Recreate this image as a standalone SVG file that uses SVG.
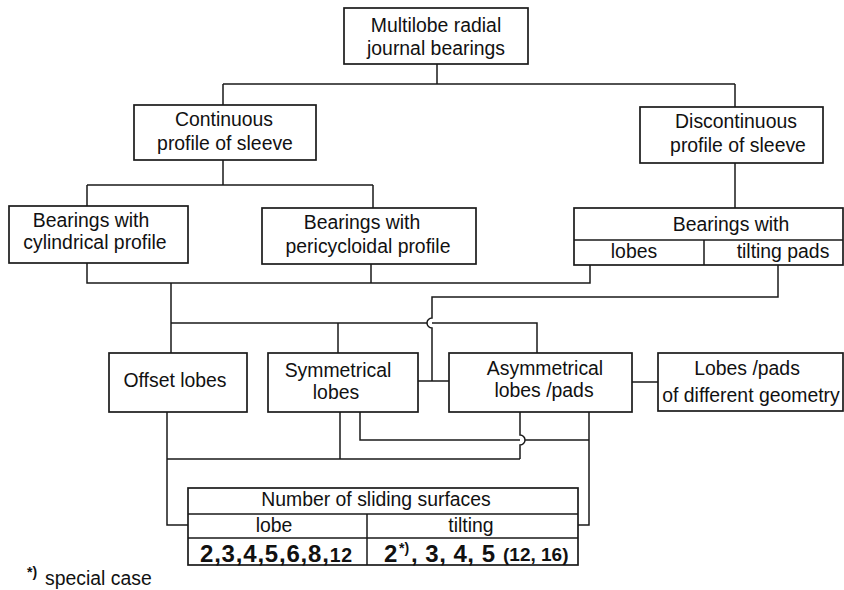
<svg xmlns="http://www.w3.org/2000/svg" width="844" height="590" viewBox="0 0 844 590">
<style>
  .box { fill: #ffffff; stroke: #1a1a1a; stroke-width: 1.7; }
  .div { fill: none; stroke: #1a1a1a; stroke-width: 1.5; }
  .con { fill: none; stroke: #1a1a1a; stroke-width: 1.5; }
  text { font-family: "Liberation Sans", Arial, sans-serif; font-size: 19.4px; fill: #111; }
  .c { text-anchor: middle; }
  .num { font-weight: bold; font-size: 24px; }
  .small { font-weight: bold; font-size: 19px; }
  .sup { font-weight: bold; font-size: 14px; }
</style>
<rect width="844" height="590" fill="#ffffff"/>

<g id="connectors">
  <path class="con" d="M437,64 V84 M223,84 H735 M223,84 V105 M735,84 V107"/>
  <path class="con" d="M223,160 V185 M87,185 H373 M87,185 V206 M373,185 V208"/>
  <path class="con" d="M735,163 V208"/>
  <path class="con" d="M87,263 V283 H590 V265 M371,264 V283"/>
  <path class="con" d="M171,283 V353 M171,323 H427 M432,323 H537 V353 M338,323 V353"/>
  <path class="con" d="M778,265 V297 H432 V318 A5,5 0 0 0 432,328 V381"/>
  <path class="con" d="M418,381 H449 M632,382 H658"/>
  <path class="con" d="M167,412 V525 H188 M167,459 H520 M340,412 V459"/>
  <path class="con" d="M360,412 V440 H520 M520,412 V435 A5,5 0 0 1 520,445 V459 M525,440 H589 M589,412 V525 H578"/>
</g>

<g id="root">
  <rect class="box" x="344" y="8" width="184" height="56"/>
  <text class="c" x="436" y="32">Multilobe radial</text>
  <text class="c" x="436" y="55">journal bearings</text>
</g>

<g id="continuous">
  <rect class="box" x="134" y="105" width="182" height="55"/>
  <text class="c" x="224" y="126">Continuous</text>
  <text class="c" x="225" y="150">profile of sleeve</text>
</g>

<g id="discontinuous">
  <rect class="box" x="640" y="107" width="183" height="56"/>
  <text class="c" x="736" y="128">Discontinuous</text>
  <text class="c" x="738" y="152">profile of sleeve</text>
</g>

<g id="cylindrical">
  <rect class="box" x="9" y="206" width="179" height="57"/>
  <text class="c" x="91" y="227">Bearings with</text>
  <text class="c" x="95" y="249">cylindrical profile</text>
</g>

<g id="pericycloidal">
  <rect class="box" x="262" y="208" width="214" height="56"/>
  <text class="c" x="362" y="229">Bearings with</text>
  <text class="c" x="368" y="253">pericycloidal profile</text>
</g>

<g id="bearings-with">
  <rect class="box" x="574" y="208" width="269" height="57"/>
  <path class="div" d="M574,240 H843 M704,240 V265"/>
  <text class="c" x="731" y="231">Bearings with</text>
  <text class="c" x="634" y="258">lobes</text>
  <text class="c" x="783" y="258">tilting pads</text>
</g>

<g id="offset">
  <rect class="box" x="109" y="353" width="138" height="59"/>
  <text class="c" x="175" y="387">Offset lobes</text>
</g>

<g id="symmetrical">
  <rect class="box" x="268" y="353" width="150" height="59"/>
  <text class="c" x="338" y="377">Symmetrical</text>
  <text class="c" x="336" y="399">lobes</text>
</g>

<g id="asymmetrical">
  <rect class="box" x="449" y="353" width="183" height="59"/>
  <text class="c" x="545" y="375">Asymmetrical</text>
  <text class="c" x="544" y="397">lobes /pads</text>
</g>

<g id="different">
  <rect class="box" x="658" y="353" width="185" height="58"/>
  <text class="c" x="747" y="375">Lobes /pads</text>
  <text class="c" x="751" y="402">of different geometry</text>
</g>

<g id="table">
  <rect class="box" x="188" y="488" width="390" height="77"/>
  <path class="div" d="M188,514 H578 M188,538 H578 M367,514 V565"/>
  <text class="c" x="376" y="506">Number of sliding surfaces</text>
  <text class="c" x="274" y="532">lobe</text>
  <text class="c" x="471" y="532">tilting</text>
  <text class="num" x="200" y="562" letter-spacing="0.8">2,3,4,5,6,8,<tspan style="font-size:19.5px">12</tspan></text>
  <text class="num" x="384" y="562">2</text>
  <text class="sup" x="399" y="553">*)</text>
  <text class="num" x="411" y="562" letter-spacing="0.5">, 3, 4, 5</text>
  <text class="small" x="503" y="561">(12, 16)</text>
</g>

<g id="footnote">
  <text class="sup" x="27" y="577">*)</text>
  <text x="45" y="585">special case</text>
</g>
</svg>
